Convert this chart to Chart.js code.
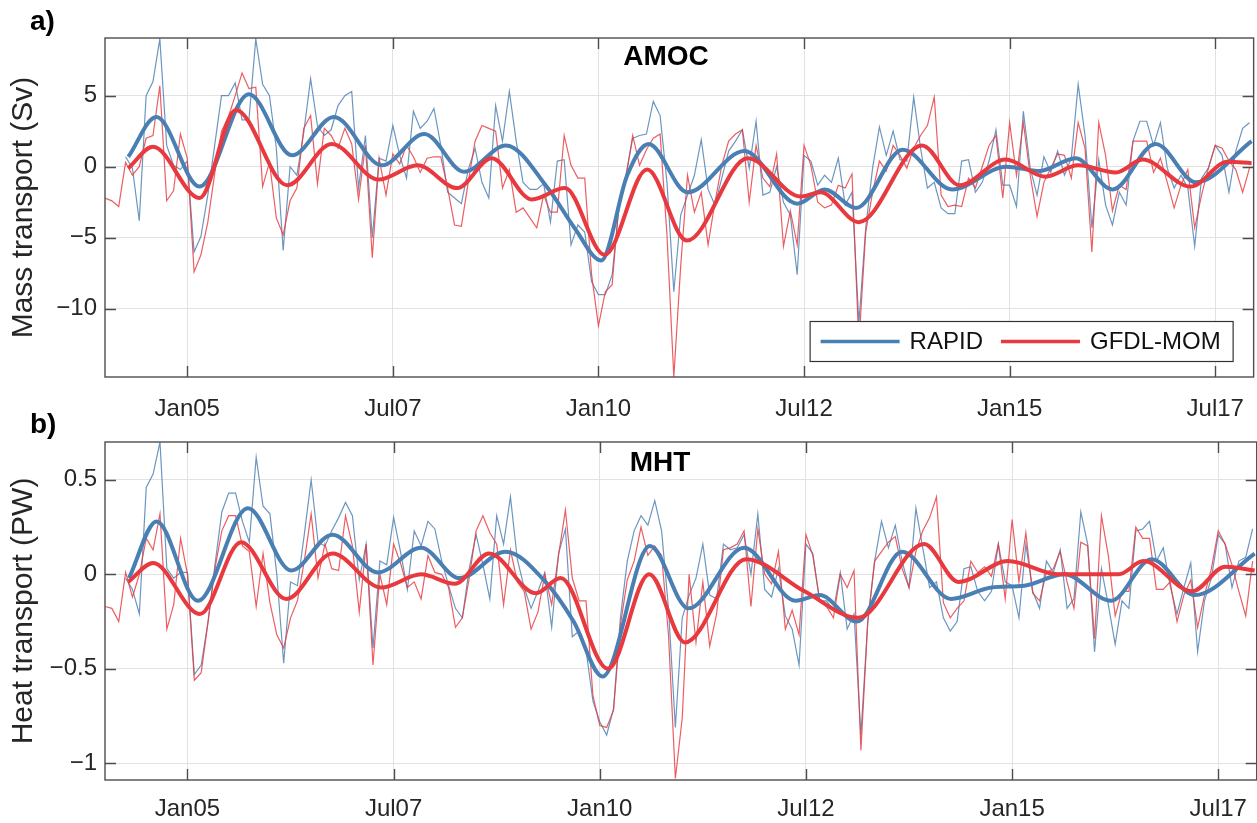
<!DOCTYPE html>
<html><head><meta charset="utf-8">
<script src="https://cdn.jsdelivr.net/npm/chart.js@4.4.1/dist/chart.umd.min.js"></script>
<style>
html,body{margin:0;padding:0;background:#fff;overflow:hidden;width:1257px;height:823px;position:relative;}
canvas{position:absolute;left:0;}
#ca{top:0;} #cb{top:400px;}
</style></head><body>
<canvas id="ca" width="1262" height="440"></canvas>
<canvas id="cb" width="1262" height="423"></canvas>
<script>
// ---- x axis: months since Jan 2004 ----
const xTickMonths = [12, 42, 72, 102, 132, 162];
const xTickLabels = ['Jan05', 'Jul07', 'Jan10', 'Jul12', 'Jan15', 'Jul17'];
const amocTicks = [-10, -5, 0, 5];
const mhtTicks = [-1, -0.5, 0, 0.5];

// ---- AMOC (Sv), monthly ----
const rapidStart = 3;   // Apr 2004
const gfdlStart = 0;    // Jan 2004
const amocRapid = [0.7,-0.1,-3.8,5.0,6.0,9.0,1.5,0.1,-0.2,0.4,
 -6.0,-4.9,-2.0,1.5,5.0,5.0,5.9,3.3,3.3,9.0,
 5.8,5.0,1.3,-5.9,0.0,-0.6,2.4,6.2,2.9,2.2,
 2.6,4.3,5.0,5.3,-1.5,2.2,-5.0,0.6,0.4,2.9,
 0.8,-0.8,3.9,2.7,3.2,4.1,1.5,-1.8,-2.2,-2.6,
 -0.2,1.3,-1.1,-2.2,4.3,1.8,5.3,1.8,-1.1,-1.6,
 -1.6,-1.2,-3.9,0.4,0.5,-5.5,-4.1,-4.6,-8.1,-9.0,
 -9.0,-7.6,-2.9,-0.6,2.0,2.2,2.3,4.6,3.6,-1.1,
 -8.8,-3.4,-2.0,-0.6,1.9,-1.6,-2.7,-0.8,1.1,1.8,
 2.6,-0.1,3.2,-2.0,-1.8,0.0,-2.5,-3.4,-7.6,0.8,
 0.4,-1.3,-0.6,-1.1,0.6,-2.7,-1.8,-11.0,-4.3,-0.1,
 2.8,0.8,2.5,0.5,0.4,4.9,1.3,-1.5,-1.1,-2.9,
 -3.3,-3.3,0.4,0.5,-1.8,-1.1,0.4,2.6,-1.3,-1.3,
 -2.8,3.9,-0.1,-2.0,0.7,-0.4,1.1,-0.6,0.6,5.8,
 2.2,-4.3,0.5,-2.7,-4.1,-1.8,-2.7,1.8,3.2,3.2,
 1.5,3.1,-0.1,-1.5,-0.6,-1.5,-5.6,-0.8,-0.1,1.5,
 0.8,-1.8,1.1,2.7,3.1];
const amocGfdl = [-2.2,-2.4,-2.8,0.3,-0.6,0.0,2.0,2.2,5.7,-2.4,
 -1.7,2.3,0.6,-7.4,-6.2,-3.9,-0.5,2.5,3.5,5.0,
 6.6,5.5,5.6,-1.4,0.3,-3.6,-4.8,-2.4,-1.5,2.7,
 3.6,-1.2,2.7,2.2,1.3,2.7,1.6,-2.3,1.5,-6.4,
 0.6,-2.0,0.9,0.2,1.5,0.7,-0.4,0.6,0.7,0.7,
 -1.5,-4.1,-4.2,-1.1,1.8,2.9,2.7,2.5,-1.5,-0.2,
 -3.2,-2.9,-3.6,-4.3,-2.0,-3.2,-3.2,2.2,0.1,-0.8,
 -0.8,-7.6,-11.2,-8.8,-8.3,-2.5,-0.8,2.2,0.1,1.2,
 2.0,2.3,-4.8,-14.8,-7.0,-0.6,-3.2,-1.8,-5.5,-2.5,
 0.1,1.8,2.3,2.6,-2.5,1.5,-0.8,-1.4,0.9,-5.6,
 -3.1,-5.5,1.5,0.1,-2.5,-2.9,-2.7,-1.3,-1.5,-0.5,
 -12.5,-4.6,-1.8,0.4,-0.3,1.5,0.8,-0.1,1.3,2.2,
 2.9,4.9,-2.0,-2.8,-2.7,-2.8,-0.8,-1.5,0.0,1.5,
 2.2,-2.2,3.1,-0.6,3.1,-0.6,-3.5,-1.1,-0.1,0.9,
 0.8,-0.8,3.1,1.3,-6.0,3.1,0.8,-3.1,-1.3,-1.6,
 1.8,1.8,1.8,-0.4,0.6,-1.1,-2.9,-1.3,-0.2,-4.3,
 -2.0,-0.1,1.5,1.3,0.4,-0.2,-1.8,-0.1];
// smoothed (low-pass) AMOC, sampled at turning points
const amocRapidSmoothMonths = [3.4,7.5,13.8,21,27.3,33.4,40.4,46.6,52.4,58.5,64.6,68.5,72.4,76.2,79.3,85,93.3,101,105,109.6,116.4,123.6,131.5,136.4,141.6,147,153.3,159.2,167.3];
const amocRapidSmooth = [0.7,3.5,-1.4,5.1,0.8,3.5,0.1,2.3,-0.35,1.5,-1.5,-4.3,-6.6,-0.6,1.6,-1.8,1.1,-2.6,-1.6,-2.9,1.2,-1.6,0,-0.3,0.6,-1.6,1.6,-1.1,1.8];
const amocGfdlSmoothMonths = [3.4,7,13.8,19.1,26.6,33.1,39.9,45.6,51.4,56.4,62.3,67.1,72.9,79.1,84.9,93.8,101.5,104.4,110,119.2,124.7,131.4,137.2,142,147.5,151.4,158.4,163.8,167.3];
const amocGfdlSmooth = [-0.1,1.4,-2.2,4.0,-1.3,1.6,-0.9,0.1,-1.5,0.6,-2.3,-1.5,-6.2,-0.2,-5.2,0.6,-2.1,-1.8,-3.9,1.5,-1.3,0.5,-0.7,0.1,-0.4,0.5,-1.4,0.35,0.25];

// ---- MHT (PW), monthly ----
const mhtRapid = [-0.02,-0.08,-0.21,0.46,0.53,0.70,0.03,-0.02,0.01,0.01,
 -0.53,-0.48,-0.25,0.05,0.33,0.43,0.43,0.28,0.17,0.62,
 0.36,0.32,0.0,-0.47,-0.04,-0.06,0.21,0.50,0.17,0.15,
 0.23,0.30,0.38,0.31,-0.03,0.16,-0.39,0.07,0.05,0.30,
 0.12,-0.08,0.23,0.15,0.28,0.24,0.07,-0.06,-0.18,-0.23,
 0.03,0.21,0.05,-0.13,0.31,0.16,0.41,0.08,-0.07,-0.18,
 -0.09,0.01,-0.28,0.11,0.24,-0.33,-0.30,-0.40,-0.67,-0.78,
 -0.85,-0.71,-0.23,0.07,0.23,0.31,0.26,0.39,0.23,-0.18,
 -0.81,-0.23,-0.11,-0.02,0.16,-0.11,-0.13,0.16,0.13,0.14,
 0.21,0.0,0.32,-0.08,-0.12,0.03,-0.22,-0.29,-0.48,0.16,
 0.11,-0.14,-0.14,-0.19,0.01,-0.29,-0.21,-0.85,-0.25,0.07,
 0.28,0.14,0.26,0.07,-0.07,0.35,0.14,-0.07,-0.04,-0.23,
 -0.30,-0.25,0.03,0.04,-0.09,-0.14,-0.09,0.16,-0.04,-0.06,
 -0.23,0.16,-0.09,-0.18,0.07,0.01,0.13,-0.18,-0.13,0.33,
 0.16,-0.41,0.03,-0.16,-0.37,-0.14,-0.18,0.23,0.24,0.28,
 0.07,0.14,-0.06,-0.21,-0.07,0.06,-0.41,-0.14,-0.02,0.21,
 0.16,-0.07,0.07,0.09,0.24];
const mhtGfdl = [-0.17,-0.18,-0.25,0.01,-0.12,0.0,0.19,0.13,0.32,-0.29,
 -0.16,0.19,0.0,-0.56,-0.52,-0.25,0.03,0.23,0.31,0.31,
 0.15,0.12,-0.17,0.11,-0.15,-0.32,-0.39,-0.23,-0.14,0.07,
 0.32,-0.02,0.16,0.03,0.02,0.31,0.15,-0.20,0.16,-0.48,
 0.0,-0.16,0.16,0.06,-0.07,-0.04,-0.13,0.10,0.01,0.0,
 -0.07,-0.28,-0.23,-0.02,0.23,0.31,0.22,0.16,-0.16,0.13,
 -0.04,-0.09,-0.29,-0.20,0.0,-0.16,0.10,0.34,-0.02,-0.14,
 -0.14,-0.64,-0.80,-0.81,-0.72,-0.27,-0.03,0.07,0.25,0.10,
 0.15,0.10,-0.32,-1.08,-0.76,0.0,-0.36,-0.04,-0.38,-0.21,
 0.13,0.14,0.16,0.23,-0.17,0.24,0.0,-0.05,0.12,-0.29,
 -0.19,-0.32,0.21,0.10,-0.14,-0.17,-0.23,0.0,-0.07,0.02,
 -0.93,-0.25,0.07,0.12,0.17,0.20,0.03,-0.07,0.12,0.23,
 0.30,0.41,-0.15,-0.23,-0.18,-0.14,0.07,0.01,0.04,-0.01,
 0.16,-0.13,0.29,-0.04,0.22,-0.10,-0.14,0.01,0.03,0.12,
 -0.04,-0.18,0.17,0.15,-0.34,0.31,0.10,-0.22,-0.09,-0.09,
 0.25,0.19,0.19,-0.08,-0.08,-0.04,-0.25,-0.11,-0.03,-0.28,
 -0.11,0.03,0.23,0.16,0.05,-0.09,-0.22,0.07];
const mhtRapidSmoothMonths = [3.5,7.5,13.5,20.8,27.1,33.1,39.7,46,51.6,58.3,64.1,68.2,72.4,79.3,84.9,93,100.5,104,109.4,116,123.1,129,133.8,139.6,146.4,152.3,158.6,167.3];
const mhtRapidSmooth = [-0.02,0.28,-0.14,0.35,0.02,0.21,0.01,0.14,-0.02,0.12,-0.04,-0.25,-0.54,0.15,-0.18,0.14,-0.14,-0.11,-0.25,0.12,-0.13,-0.07,-0.06,0,-0.14,0.08,-0.11,0.11];
const mhtGfdlSmoothMonths = [3.4,7,13.8,19.8,26.4,33.1,40.2,46,50.9,55.9,62.7,66.3,73.2,79.2,84.4,93.3,101.8,109.6,119.2,124.2,131.4,138.7,143.6,147.5,151.1,158.2,163,167.3];
const mhtGfdlSmooth = [-0.04,0.06,-0.21,0.17,-0.13,0.11,-0.07,0,-0.05,0.11,-0.10,-0.02,-0.50,0,-0.36,0.08,-0.09,-0.23,0.16,-0.04,0.07,0,0,0,0.07,-0.09,0.04,0.02];

// ---- styling ----
const FONT = "'Liberation Sans', Arial, Helvetica, sans-serif";
const TXT = '#262626';
const BLUE = '#4a7fb3';
const RED = '#e8393e';
const BLUE_THIN = 'rgba(74,127,179,0.82)';
const RED_THIN = 'rgba(232,57,62,0.82)';
const GRID = '#e2e2e2';

function monthly(vals, start) { return vals.map((v, i) => ({x: start + i, y: v})); }
function paired(ms, vs) { return ms.map((m, i) => ({x: m, y: vs[i]})); }
function fmt(v) { return v < 0 ? '\u2212' + String(Math.abs(v)) : String(v); }

const framePlugin = {
  id: 'frame',
  afterDatasetsDraw(chart, args, o) {
    const {ctx, chartArea: {left, right, top, bottom}, scales: {x, y}} = chart;
    ctx.save();
    if (o.legend) {
      const items = chart.data.datasets.filter(d => d.inLegend).sort((a, b) => a.legendOrder - b.legendOrder);
      ctx.font = '24px ' + FONT;
      let w = 11;
      items.forEach((d, i) => { w += 79 + 10 + ctx.measureText(d.label).width + (i < items.length - 1 ? 18 : 12); });
      const bx1 = right - 21, bx0 = bx1 - w, by1 = bottom - 16, by0 = by1 - 40;
      ctx.fillStyle = '#fff';
      ctx.fillRect(bx0, by0, w, 40);
      ctx.strokeStyle = '#333'; ctx.lineWidth = 1.2;
      ctx.strokeRect(bx0 + 0.5, by0 + 0.5, w, 40);
      let cx = bx0 + 11; const cy = (by0 + by1) / 2 + 0.5;
      items.forEach(d => {
        ctx.strokeStyle = d.borderColor; ctx.lineWidth = 3.5;
        ctx.beginPath(); ctx.moveTo(cx, cy); ctx.lineTo(cx + 79, cy); ctx.stroke();
        cx += 89;
        ctx.fillStyle = '#111'; ctx.textAlign = 'left'; ctx.textBaseline = 'middle';
        ctx.fillText(d.label, cx, cy + 1);
        cx += ctx.measureText(d.label).width + 18;
      });
    }
    ctx.strokeStyle = '#4d4d4d'; ctx.lineWidth = 1.4;
    ctx.strokeRect(left, top, right - left, bottom - top);
    const L = 11;
    ctx.beginPath();
    x.ticks.forEach(t => {
      const px = Math.round(x.getPixelForValue(t.value)) + 0.5;
      ctx.moveTo(px, bottom); ctx.lineTo(px, bottom - L);
      ctx.moveTo(px, top); ctx.lineTo(px, top + L);
    });
    y.ticks.forEach(t => {
      const py = Math.round(y.getPixelForValue(t.value)) + 0.5;
      ctx.moveTo(left, py); ctx.lineTo(left + L, py);
      ctx.moveTo(right, py); ctx.lineTo(right - L, py);
    });
    ctx.stroke();
    ctx.fillStyle = '#000';
    ctx.font = 'bold 28px ' + FONT;
    ctx.textAlign = 'center'; ctx.textBaseline = 'middle';
    ctx.fillText(o.title, o.titleX, o.titleY);
    ctx.font = 'bold 28px ' + FONT;
    ctx.textAlign = 'left';
    ctx.fillText(o.panel, 30, o.panelY);
    ctx.restore();
  }
};

function makeChart(id, cfg) {
  const datasets = [
    {label: 'GFDL-MOM', data: paired(cfg.gsm, cfg.gs), borderColor: RED, borderWidth: 4, cubicInterpolationMode: 'monotone', inLegend: true, legendOrder: 2},
    {label: 'RAPID', data: paired(cfg.rsm, cfg.rs), borderColor: BLUE, borderWidth: 4, cubicInterpolationMode: 'monotone', inLegend: true, legendOrder: 1},
    {label: 'GFDL-MOM monthly', data: monthly(cfg.g, gfdlStart), borderColor: RED_THIN, borderWidth: 1.2, tension: 0},
    {label: 'RAPID monthly', data: monthly(cfg.r, rapidStart), borderColor: BLUE_THIN, borderWidth: 1.2, tension: 0}
  ];
  datasets.forEach(d => { d.pointRadius = 0; d.fill = false; d.clip = 0; });
  return new Chart(document.getElementById(id), {
    type: 'line',
    data: {datasets},
    options: {
      responsive: false, animation: false,
      layout: {padding: {top: cfg.padTop, right: 2, left: 0, bottom: 0}},
      plugins: {legend: {display: false}, tooltip: {enabled: false},
        frame: {legend: cfg.legend, title: cfg.title, titleX: cfg.titleX, titleY: cfg.titleY, panel: cfg.panel, panelY: cfg.panelY}},
      scales: {
        x: {
          type: 'linear', min: 0, max: 167.6,
          afterBuildTicks: s => { s.ticks = xTickMonths.map(v => ({value: v})); },
          afterFit: s => { s.height = cfg.xh; },
          ticks: {autoSkip: false, maxRotation: 0, padding: cfg.xpad, color: TXT, font: {family: FONT, size: 24},
            callback: v => xTickLabels[xTickMonths.indexOf(v)]},
          grid: {color: GRID, lineWidth: 1, drawTicks: false},
          border: {display: false}
        },
        y: {
          type: 'linear', min: cfg.ymin, max: cfg.ymax,
          afterBuildTicks: s => { s.ticks = cfg.yt.map(v => ({value: v})); },
          afterFit: s => { s.width = 105; },
          ticks: {padding: 8, color: TXT, font: {family: FONT, size: 24}, callback: v => fmt(v)},
          grid: {color: GRID, lineWidth: 1, drawTicks: false},
          border: {display: false},
          title: {display: true, text: cfg.ytitle, color: TXT, font: {family: FONT, size: 30}, padding: {top: 6, bottom: 0}}
        }
      }
    },
    plugins: [framePlugin]
  });
}

makeChart('ca', {
  r: amocRapid, g: amocGfdl, rsm: amocRapidSmoothMonths, rs: amocRapidSmooth, gsm: amocGfdlSmoothMonths, gs: amocGfdlSmooth,
  ymin: -14.8, ymax: 9.06, yt: amocTicks, ytitle: 'Mass transport (Sv)',
  padTop: 38, xh: 63, xpad: 18, legend: true, title: 'AMOC', titleX: 666, titleY: 57, panel: 'a)', panelY: 22
});
makeChart('cb', {
  r: mhtRapid, g: mhtGfdl, rsm: mhtRapidSmoothMonths, rs: mhtRapidSmooth, gsm: mhtGfdlSmoothMonths, gs: mhtGfdlSmooth,
  ymin: -1.088, ymax: 0.70, yt: mhtTicks, ytitle: 'Heat transport (PW)',
  padTop: 42, xh: 43, xpad: 15, legend: false, title: 'MHT', titleX: 660, titleY: 63, panel: 'b)', panelY: 25
});
</script>
</body></html>
